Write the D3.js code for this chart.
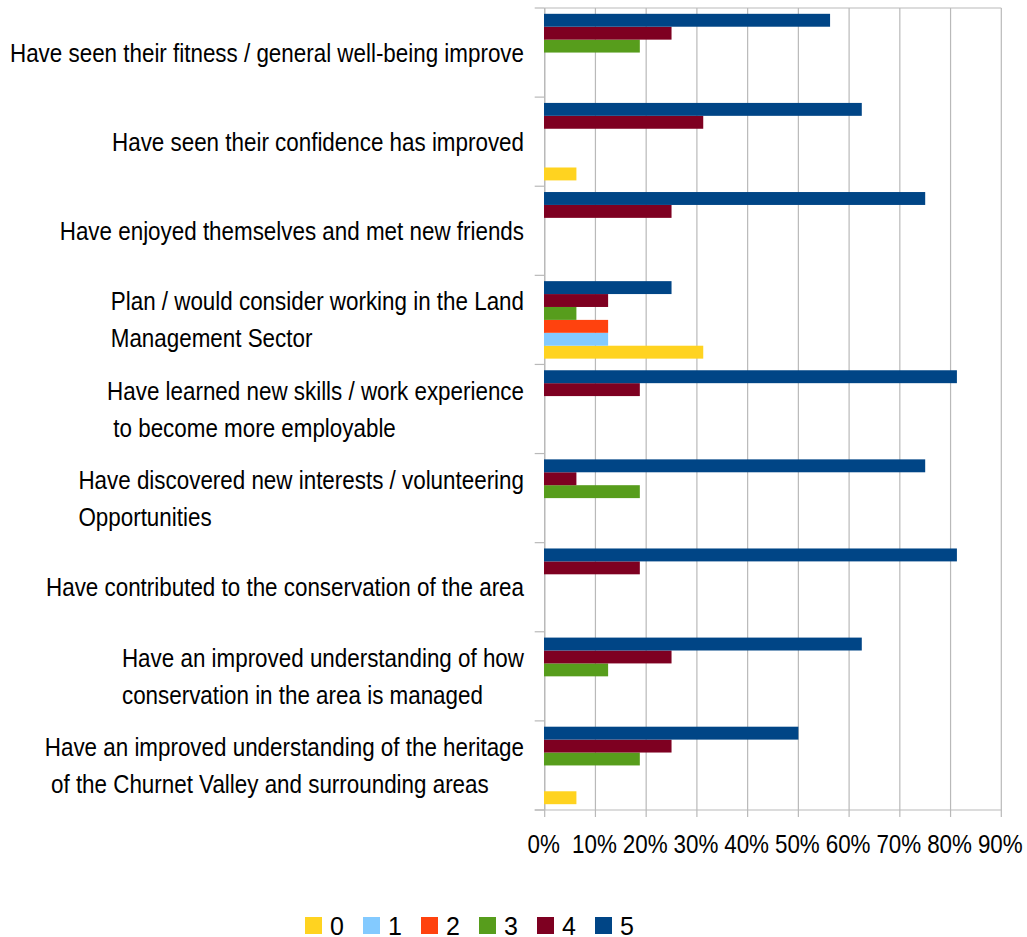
<!DOCTYPE html>
<html>
<head>
<meta charset="utf-8">
<script src="https://cdn.jsdelivr.net/npm/d3@7"></script>
<style>
body { margin: 0; background: #fff; }
text { font-family: 'Liberation Sans', Arial, sans-serif; fill: #000; white-space: pre; }
</style>
</head>
<body>
<svg id="chart" width="1027" height="937"></svg>
<script>
// categories, top to bottom ("\n" = line break in the label)
var categories = [
  "Have seen their fitness / general well-being improve",
  "Have seen their confidence has improved",
  "Have enjoyed themselves and met new friends",
  "Plan / would consider working in the Land\nManagement Sector",
  "Have learned new skills / work experience\n to become more employable",
  "Have discovered new interests / volunteering\nOpportunities",
  "Have contributed to the conservation of the area",
  "Have an improved understanding of how\nconservation in the area is managed",
  "Have an improved understanding of the heritage\n of the Churnet Valley and surrounding areas"
];
var seriesNames = ["0", "1", "2", "3", "4", "5"];
var seriesColors = ["#ffd320", "#83caff", "#ff420e", "#579d1c", "#7e0021", "#004586"];

// values in percent, one per category
var s0 = [0, 6.25, 0, 31.25, 0, 0, 0, 0, 6.25];
var s1 = [0, 0, 0, 12.5, 0, 0, 0, 0, 0];
var s2 = [0, 0, 0, 12.5, 0, 0, 0, 0, 0];
var s3 = [18.75, 0, 0, 6.25, 0, 18.75, 0, 12.5, 18.75];
var s4 = [25, 31.25, 25, 12.5, 18.75, 6.25, 18.75, 25, 25];
var s5 = [56.25, 62.5, 75, 25, 81.25, 75, 81.25, 62.5, 50];
var tickValues = [0, 10, 20, 30, 40, 50, 60, 70, 80, 90];

var allSeries = [s0, s1, s2, s3, s4, s5];
var width = 1027, height = 937;
var margin = {top: 8, right: 25.7, bottom: 127, left: 544.7};
var fontSize = "25px";

var svg = d3.select("#chart");
var g = svg.append("g");

// the original text is a narrow face; squeeze Liberation Sans to match
var probe = g.append("text").style("font-size", fontSize).text(categories[0]);
var squeeze = 514 / probe.node().getComputedTextLength();
probe.remove();
function narrow(sel) {
  sel.each(function() {
    var n = this.getComputedTextLength();
    d3.select(this).attr("textLength", n * squeeze).attr("lengthAdjust", "spacingAndGlyphs");
  });
}

var x = d3.scaleLinear()
    .domain([0, 90])
    .range([margin.left, width - margin.right]);
var y = d3.scaleBand()
    .domain(categories)
    .range([margin.top, height - margin.bottom]);
// blue (5) on top, yellow (0) at the bottom
var ySub = d3.scaleBand()
    .domain(["5", "4", "3", "2", "1", "0"])
    .range([0, y.bandwidth()])
    .paddingOuter(0.45);

var gridColor = "#b9b9b9";

// vertical gridlines (extend below the axis as ticks)
g.selectAll(".grid")
    .data(tickValues)
  .enter().append("line")
    .attr("class", "grid")
    .attr("x1", d => x(d)).attr("x2", d => x(d))
    .attr("y1", margin.top).attr("y2", height - margin.bottom + 7)
    .attr("stroke", gridColor).attr("stroke-width", 1.2);

// top line
g.append("line")
    .attr("x1", x(0)).attr("x2", x(90))
    .attr("y1", margin.top).attr("y2", margin.top)
    .attr("stroke", gridColor).attr("stroke-width", 1.2);

// bottom axis line
g.append("line")
    .attr("x1", x(0) - 10).attr("x2", x(90))
    .attr("y1", height - margin.bottom).attr("y2", height - margin.bottom)
    .attr("stroke", gridColor).attr("stroke-width", 1.2);

// left axis line + tick marks at the category boundaries
g.append("line")
    .attr("x1", x(0)).attr("x2", x(0))
    .attr("y1", margin.top).attr("y2", height - margin.bottom)
    .attr("stroke", gridColor).attr("stroke-width", 1.2);
var bounds = categories.map(c => y(c)).concat([height - margin.bottom]);
g.selectAll(".ytick")
    .data(bounds)
  .enter().append("line")
    .attr("class", "ytick")
    .attr("x1", x(0) - 10).attr("x2", x(0))
    .attr("y1", d => d).attr("y2", d => d)
    .attr("stroke", gridColor).attr("stroke-width", 1.2);

// bars
var rows = [];
categories.forEach(function(c, i) {
  allSeries.forEach(function(s, j) {
    rows.push({cat: c, series: seriesNames[j], value: s[i], color: seriesColors[j]});
  });
});
g.selectAll(".bar")
    .data(rows.filter(d => d.value > 0))
  .enter().append("rect")
    .attr("class", "bar")
    .attr("x", x(0) - 0.7)
    .attr("y", d => y(d.cat) + ySub(d.series))
    .attr("width", d => x(d.value) - x(0) + 0.7)
    .attr("height", ySub.bandwidth())
    .attr("fill", d => d.color);

// x tick labels
g.selectAll(".xlabel")
    .data(tickValues)
  .enter().append("text")
    .attr("class", "xlabel")
    .attr("x", d => x(d) - 1)
    .attr("y", height - margin.bottom + 43)
    .attr("text-anchor", "middle")
    .style("font-size", fontSize)
    .text(d => d + "%")
    .call(narrow);

// category labels: left-aligned block, right edge at 524
var lineGap = 37;
categories.forEach(function(c) {
  var lines = c.split("\n");
  var cy = y(c) + y.bandwidth() / 2;
  var t = g.append("text").style("font-size", fontSize);
  var spans = lines.map(function(l, k) {
    return t.append("tspan")
        .attr("x", 0)
        .attr("y", cy + 9 + (k - (lines.length - 1) / 2) * lineGap)
        .text(l);
  });
  var w = d3.max(spans, s => s.node().getComputedTextLength()) * squeeze;
  spans.forEach(function(s) {
    s.attr("x", 524 - w).call(narrow);
  });
});

// legend
var legend = g.selectAll(".legend")
    .data(seriesNames)
  .enter().append("g")
    .attr("class", "legend")
    .attr("transform", (d, i) => "translate(" + (305 + i * 58) + ",917)");
legend.append("rect")
    .attr("width", 17).attr("height", 17)
    .attr("fill", (d, i) => seriesColors[i]);
legend.append("text")
    .attr("x", 25).attr("y", 18)
    .style("font-size", fontSize)
    .text(d => d);
</script>
</body>
</html>
